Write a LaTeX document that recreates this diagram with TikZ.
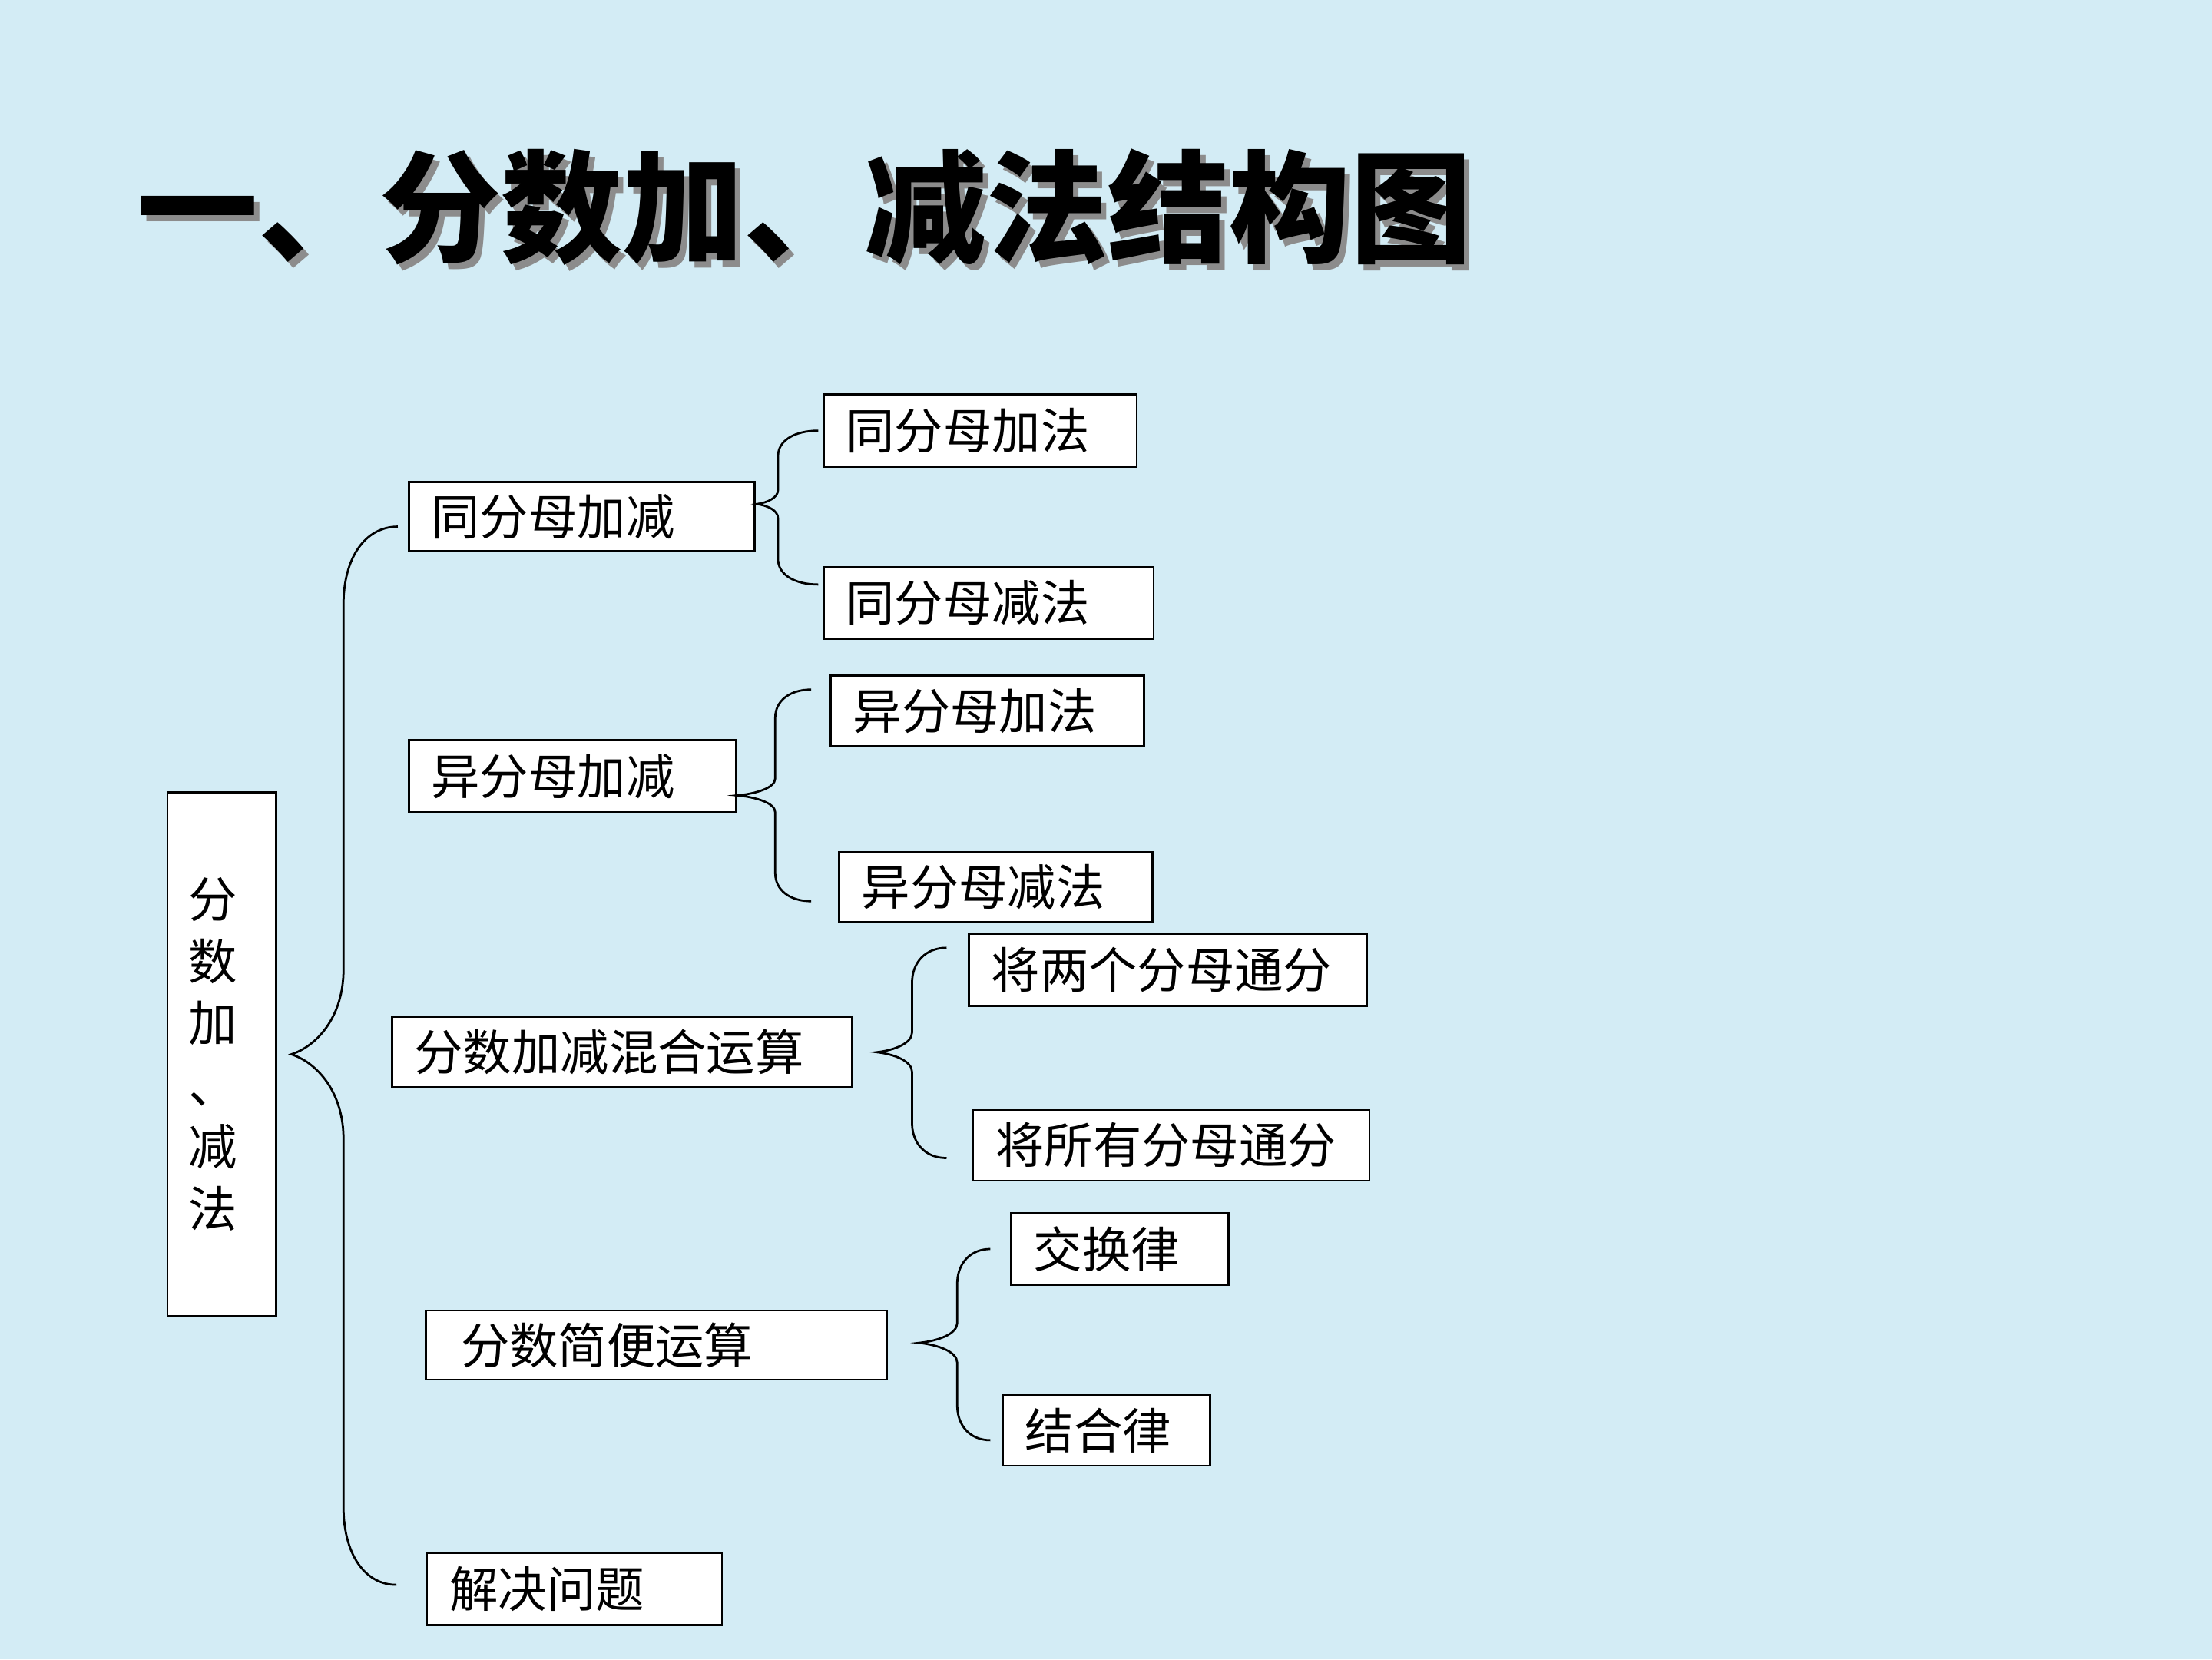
\documentclass[tikz,border=0pt]{standalone}
\usepackage{fontspec}
\usetikzlibrary{calc}
\newfontfamily\cjk{Noto Sans CJK SC}
\definecolor{slidebg}{RGB}{211,236,245}
\tikzset{
  box/.style={draw=black, fill=white, line width=1.5pt, anchor=north west,
    inner xsep=16pt, inner ysep=0pt, align=left,
    font=\cjk\fontsize{34.5}{40}\selectfont},
  bline/.style={draw=black, line width=1.5pt},
}
% curly brace: tip, top end, bottom end, spine offset, end radius, tip radius
\newcommand{\curly}[6]{%
  \draw[bline] let \p1=(#1), \p2=(#2), \p3=(#3) in
    (\p2) .. controls ({\x1+#4+0.4*(\x2-\x1-#4)},\y2) and (\x1+#4,\y2-0.4*#5) .. (\x1+#4,\y2-#5)
    -- (\x1+#4,\y1+#6) .. controls (\x1+#4,\y1+0.45*#6) and (\x1+0.5*#4,\y1+0.1*#6) .. (\p1)
    .. controls (\x1+0.5*#4,\y1-0.1*#6) and (\x1+#4,\y1-0.45*#6) .. (\x1+#4,\y1-#6)
    -- (\x1+#4,\y3+#5) .. controls (\x1+#4,\y3+0.4*#5) and ({\x1+#4+0.4*(\x3-\x1-#4)},\y3) .. (\p3);
}
\newcommand{\titletext}{一、分数加、减法结构图}
\begin{document}
\begin{tikzpicture}[x=1pt,y=1pt]
  \fill[slidebg] (0,0) rectangle (1568,-1176);
  \useasboundingbox (0,0) rectangle (1568,-1176);

  % title with shadow
  \node[anchor=west, inner sep=0pt, font=\cjk\bfseries\fontsize{86}{90}\selectfont] (title) at (97,-149)
    {\makebox[0pt][l]{\raisebox{-4pt}{\hspace{4pt}\textcolor{black!45}{\titletext}}}\titletext};

  % root
  \node[box, inner xsep=15pt, text width=47pt, minimum height=371pt,
    font=\cjk\fontsize{34.5}{43.8}\selectfont] (root) at (118,-561)
    {分\\数\\加\\、\\减\\法};

  % second level
  \node[box, text width=213pt, minimum height=49pt] (tong) at (289,-341) {同分母加减};
  \node[box, text width=200pt, minimum height=51pt] (yi) at (289,-524) {异分母加减};
  \node[box, text width=294pt, minimum height=50pt] (hun) at (277,-720) {分数加减混合运算};
  \node[box, text width=295pt, minimum height=49pt] (jb) at (301,-928) {\hspace{9pt}分数简便运算};
  \node[box, text width=177pt, minimum height=51pt] (jie) at (302,-1100) {解决问题};

  % third level
  \node[box, text width=190pt, minimum height=51pt] (tjia) at (583,-279) {同分母加法};
  \node[box, text width=202pt, minimum height=51pt] (tjian) at (583,-401) {同分母减法};
  \node[box, text width=190pt, minimum height=50pt] (yjia) at (588,-478) {异分母加法};
  \node[box, text width=190pt, minimum height=50pt] (yjian) at (594,-603) {异分母减法};
  \node[box, text width=250pt, minimum height=51pt] (ltwo) at (686,-661) {将两个分母通分};
  \node[box, text width=249pt, minimum height=50pt] (lall) at (689,-786) {将所有分母通分};
  \node[box, text width=122pt, minimum height=51pt] (jh) at (716,-859) {交换律};
  \node[box, text width=115pt, minimum height=50pt] (jhe) at (710,-988) {结合律};

  % braces
  \curly{$(root.east)+(10,0)$}{$(tong.west)+(-7,-7)$}{$(jie.west)+(-21,3)$}{37}{55}{60}
  \curly{$(tong.east)+(1,9)$}{$(tjia.west)+(-3,0)$}{$(tjian.west)+(-3,13)$}{15}{18}{10}
  \curly{$(yi.east)+(0,-13.5)$}{$(yjia.west)+(-13,15)$}{$(yjian.west)+(-19,-10)$}{27}{20}{12}
  \curly{$(hun.east)+(17,0)$}{$(ltwo.west)+(-15,15.5)$}{$(lall.west)+(-18,-9)$}{25}{25}{14}
  \curly{$(jb.east)+(22,1.5)$}{$(jh.west)+(-14,0)$}{$(jhe.west)+(-8,-7)$}{27}{25}{14}
\end{tikzpicture}
\end{document}
